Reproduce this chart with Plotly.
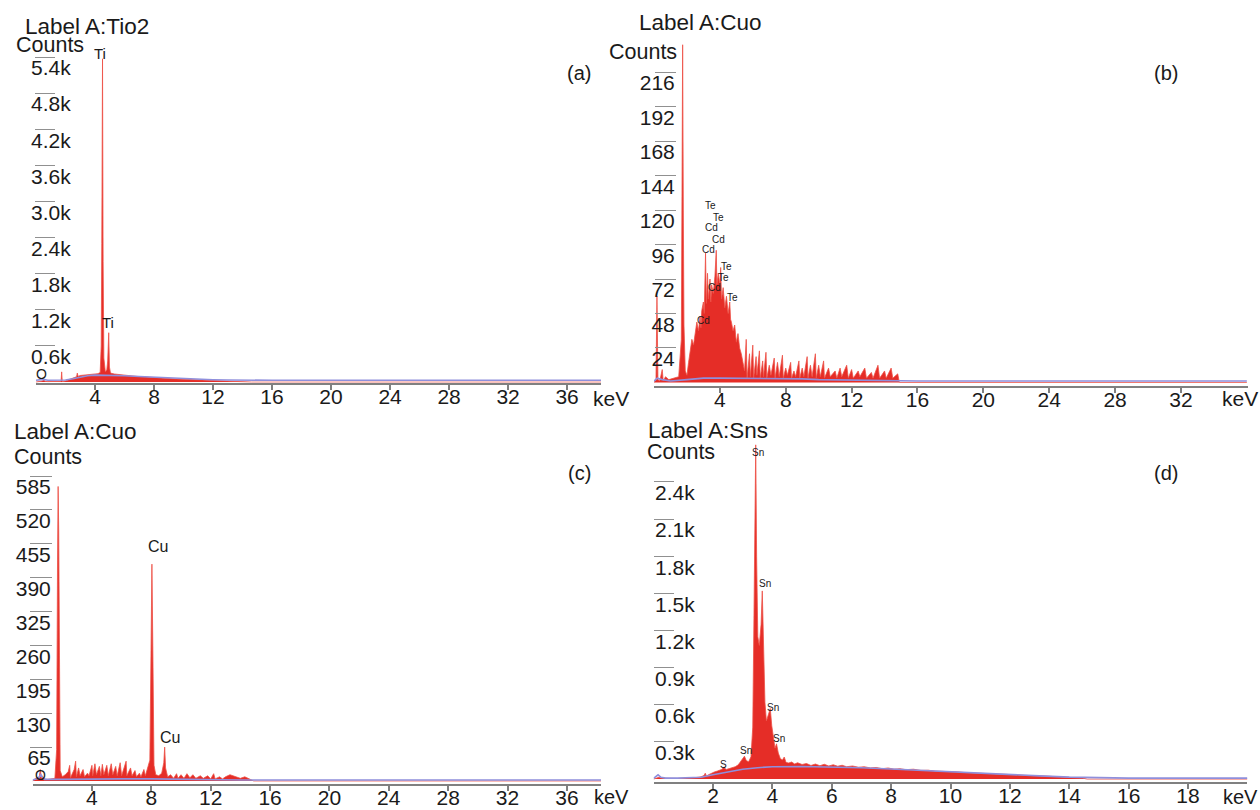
import plotly.graph_objects as go

# ---------------- data (keV, counts) ----------------
# (a) TiO2
A_KEV = [0.0, 0.3, 0.45, 0.52, 0.6, 0.8, 1.2, 1.6, 1.70, 1.74,
         1.78, 2.0, 2.2, 2.4, 2.6, 2.75, 2.8, 2.85, 3.0, 3.2,
         3.4, 3.6, 3.8, 4.0, 4.2, 4.35, 4.42, 4.46, 4.51, 4.55,
         4.60, 4.70, 4.80, 4.86, 4.93, 4.98, 5.05, 5.3, 5.6, 6.0,
         6.4, 6.8, 7.2, 7.6, 8.0, 8.5, 9.0, 9.5, 10.0, 10.5,
         11.0, 11.5, 12.0, 12.5, 13.0, 13.5, 14.0, 14.4, 14.6, 38.3]
A_CNT = [0, 10, 20, 45, 15, 8, 8, 12, 15, 170,
         12, 20, 35, 55, 75, 90, 150, 95, 110, 115,
         120, 125, 130, 135, 140, 160, 600, 2300, 5370, 2000,
         400, 170, 200, 350, 820, 250, 150, 135, 125, 115,
         105, 95, 88, 80, 72, 65, 58, 52, 47, 42,
         38, 34, 30, 26, 22, 18, 14, 8, 0, 0]
A_BG_KEV = [0, 0.3, 0.5, 0.8, 1.5, 2.0, 2.5, 3.0, 3.5, 4.0, 5.0, 6.0, 7.0, 8.0,
            9.0, 10.0, 11.0, 12.0, 13.0, 14.0, 15.0, 16.0, 38.3]
A_BG = [30, 40, 45, 30, 30, 35, 55, 85, 105, 115, 115, 105, 92, 80,
        68, 57, 48, 40, 35, 32, 30, 30, 30]

# (b) CuO (Cd / Te)
B_KEV = [0.00, 0.12, 0.18, 0.24, 0.35, 0.50, 0.56, 0.70, 0.90, 1.20,
         1.50, 1.66, 1.70, 1.74, 1.78, 1.82, 1.90, 2.00, 2.10, 2.20,
         2.30, 2.40, 2.50, 2.60, 2.70, 2.80, 2.85, 2.90, 3.00, 3.05,
         3.13, 3.18, 3.25, 3.30, 3.40, 3.45, 3.50, 3.60, 3.70, 3.78,
         3.82, 3.90, 4.00, 4.05, 4.10, 4.20, 4.30, 4.40, 4.50, 4.60,
         4.65, 4.70, 4.80, 4.90, 5.00, 5.10, 5.20, 5.30, 5.40, 5.50,
         5.60, 5.65, 5.80, 5.85, 6.00, 6.05, 6.20, 6.25, 6.40, 6.45,
         6.60, 6.65, 6.80, 6.85, 7.00, 7.10, 7.30, 7.35, 7.50, 7.60,
         7.80, 7.85, 8.00, 8.10, 8.30, 8.35, 8.50, 8.60, 8.80, 8.85,
         9.00, 9.10, 9.30, 9.35, 9.50, 9.60, 9.80, 9.85, 10.0, 10.1,
         10.3, 10.35, 10.6, 10.7, 11.0, 11.1, 11.3, 11.4, 11.7, 11.8,
         12.0, 12.1, 12.4, 12.5, 12.8, 12.9, 13.2, 13.3, 13.6, 13.7,
         14.0, 14.1, 14.4, 14.5, 14.8, 14.9, 36.0]
B_CNT = [0, 2, 60, 2, 1, 9, 1, 4, 2, 3,
         4, 30, 235, 235, 120, 40, 8, 5, 14, 24,
         30, 26, 36, 42, 36, 46, 38, 50, 56, 48,
         90, 55, 76, 58, 72, 56, 68, 62, 74, 92,
         68, 76, 68, 80, 58, 66, 52, 60, 48, 56,
         44, 42, 36, 40, 28, 34, 24, 20, 14, 8,
         30, 3, 20, 4, 26, 3, 18, 5, 22, 3,
         15, 4, 21, 3, 12, 5, 17, 3, 14, 4,
         19, 3, 10, 5, 14, 3, 8, 4, 15, 3,
         10, 4, 18, 3, 12, 4, 20, 3, 12, 4,
         15, 3, 10, 4, 8, 3, 10, 4, 12, 3,
         9, 3, 8, 4, 10, 3, 7, 3, 12, 3,
         8, 3, 10, 3, 6, 0, 0]
B_BG_KEV = [0, 0.2, 0.5, 1, 2, 3, 4, 5, 6, 7, 8, 9, 10, 12, 14, 16, 36]
B_BG = [1, 3, 2, 1, 2, 3, 3, 3, 3, 3, 3, 2.5, 2, 1.5, 1, 1, 1]

# (c) CuO (Cu)
C_KEV = [0.00, 0.20, 0.45, 0.52, 0.60, 1.00, 1.50, 1.62, 1.68, 1.72,
         1.76, 1.80, 1.86, 2.00, 2.20, 2.40, 2.50, 2.55, 2.70, 2.80,
         2.90, 2.95, 3.10, 3.20, 3.40, 3.50, 3.70, 3.80, 4.00, 4.05,
         4.20, 4.30, 4.50, 4.60, 4.70, 4.80, 5.00, 5.10, 5.30, 5.40,
         5.60, 5.70, 5.90, 6.00, 6.30, 6.35, 6.60, 6.70, 6.90, 7.00,
         7.20, 7.30, 7.50, 7.60, 7.80, 7.90, 7.98, 8.04, 8.10, 8.18,
         8.30, 8.50, 8.70, 8.84, 8.90, 8.96, 9.10, 9.30, 9.50, 9.70,
         9.80, 10.0, 10.2, 10.4, 10.6, 10.8, 11.0, 11.3, 11.5, 11.8,
         12.0, 12.2, 12.3, 12.6, 12.8, 13.0, 13.3, 13.5, 13.8, 14.0,
         14.3, 14.6, 14.9, 38.3]
C_CNT = [0, 5, 8, 22, 5, 3, 5, 60, 420, 565,
         480, 200, 20, 8, 12, 18, 30, 6, 15, 22,
         38, 8, 25, 10, 22, 8, 15, 10, 30, 10,
         33, 12, 28, 10, 32, 12, 30, 10, 33, 12,
         28, 10, 35, 10, 38, 10, 25, 10, 20, 8,
         15, 8, 22, 10, 30, 40, 250, 416, 260, 30,
         12, 10, 15, 35, 65, 25, 8, 12, 5, 14,
         5, 12, 5, 14, 6, 12, 5, 10, 5, 10,
         4, 14, 4, 8, 4, 8, 12, 10, 8, 5,
         8, 4, 0, 0]
C_BG_KEV = [0, 0.4, 0.55, 0.8, 2, 4, 6, 8, 10, 12, 14, 16, 38.3]
C_BG = [2, 5, 12, 3, 3, 4, 4, 4, 3, 3, 2, 2, 2]

# (d) SnS
D_KEV = [0.00, 0.10, 0.18, 0.26, 0.40, 0.60, 0.80, 1.00, 1.20, 1.40,
         1.60, 1.70, 1.74, 1.78, 1.85, 1.95, 2.05, 2.15, 2.25, 2.31,
         2.35, 2.45, 2.55, 2.65, 2.75, 2.85, 2.95, 3.02, 3.06, 3.12,
         3.20, 3.28, 3.34, 3.38, 3.41, 3.44, 3.47, 3.51, 3.56, 3.62,
         3.66, 3.70, 3.75, 3.80, 3.86, 3.93, 3.98, 4.04, 4.09, 4.14,
         4.20, 4.27, 4.34, 4.40, 4.46, 4.55, 4.65, 4.75, 4.85, 5.00,
         5.15, 5.30, 5.45, 5.60, 5.75, 5.90, 6.05, 6.20, 6.35, 6.50,
         6.70, 6.90, 7.10, 7.30, 7.50, 7.70, 7.90, 8.10, 8.30, 8.50,
         8.75, 9.00, 9.25, 9.50, 9.75, 10.0, 10.25, 10.5, 10.75, 11.0,
         11.25, 11.5, 11.75, 12.0, 12.25, 12.5, 12.75, 13.0, 13.25, 13.5,
         13.75, 14.0, 14.25, 14.45, 14.6, 20.0]
D_CNT = [0, 8, 15, 8, 5, 6, 5, 6, 8, 12,
         18, 30, 48, 25, 35, 48, 58, 65, 72, 80,
         95, 78, 85, 92, 100, 115, 150, 170, 185, 150,
         140, 180, 420, 1300, 2100, 2700, 1800, 1150, 1080, 1250,
         1520, 1050, 620, 470, 520, 570, 430, 320, 250, 285,
         210, 165, 155, 178, 135, 130, 138, 122, 132, 118,
         126, 110, 122, 108, 120, 106, 116, 104, 112, 100,
         106, 96, 100, 90, 94, 84, 90, 80, 84, 76,
         80, 70, 72, 64, 64, 58, 58, 52, 50, 46,
         46, 40, 40, 35, 34, 30, 30, 25, 24, 20,
         18, 15, 12, 8, 0, 0]
D_BG_KEV = [0.0, 0.08, 0.15, 0.25, 0.4, 0.8, 1.2, 1.6, 2.0, 2.5, 3.0, 3.5, 4.0,
            5.0, 6.0, 7.0, 8.0, 9.0, 10.0, 11.0, 12.0, 13.0, 14.0, 15.0, 16.0, 20.0]
D_BG = [5, 20, 35, 15, 8, 8, 10, 15, 35, 60, 80, 92, 100,
        102, 98, 92, 82, 70, 58, 47, 36, 26, 16, 10, 8, 8]

# tick values / labels
A_YTICKS = [600, 1200, 1800, 2400, 3000, 3600, 4200, 4800, 5400]
A_YTEXT = ["0.6k", "1.2k", "1.8k", "2.4k", "3.0k", "3.6k", "4.2k", "4.8k", "5.4k"]
B_YTICKS = [24, 48, 72, 96, 120, 144, 168, 192, 216]
C_YTICKS = [65, 130, 195, 260, 325, 390, 455, 520, 585]
D_YTICKS = [300, 600, 900, 1200, 1500, 1800, 2100, 2400]
D_YTEXT = ["0.3k", "0.6k", "0.9k", "1.2k", "1.5k", "1.8k", "2.1k", "2.4k"]
AC_XTICKS = [4, 8, 12, 16, 20, 24, 28, 32, 36]
B_XTICKS = [4, 8, 12, 16, 20, 24, 28, 32]
D_XTICKS = [2, 4, 6, 8, 10, 12, 14, 16, 18]

# peak labels (text, keV, counts, font size)
A_PEAKS = [("Ti", 4.34, 5466, 15), ("Ti", 4.88, 982, 15), ("O", 0.4, 130, 14)]
B_PEAKS = [("Te", 3.46, 123.5, 10), ("Te", 3.89, 115.1, 10), ("Cd", 3.52, 107.5, 10),
           ("Cd", 3.89, 99.8, 10), ("Cd", 3.28, 92.2, 10), ("Te", 4.43, 81.0, 10),
           ("Te", 4.19, 73.4, 10), ("Cd", 3.70, 66.4, 10), ("Te", 4.74, 58.8, 10),
           ("Cd", 2.98, 42.8, 10)]
C_PEAKS = [("Cu", 8.48, 449, 16), ("Cu", 9.23, 83.5, 16), ("O", 0.5, 12, 14)]
D_PEAKS = [("Sn", 3.52, 2641, 10), ("Sn", 3.75, 1577, 10), ("Sn", 4.02, 582, 10),
           ("Sn", 4.22, 324, 10), ("Sn", 3.11, 234, 10), ("S", 2.34, 122, 10)]

# ---------------- styling ----------------
W, H = 1260, 810
FONT = "Liberation Sans, Arial, sans-serif"
TXT = "#1a1a1a"
RED_FILL = "rgba(228,38,32,0.97)"
RED_LINE = "rgba(238,80,70,1)"
BLUE = "#8f8fdc"
AXIS = "#808080"


def fx(p):
    return p / W


def fy(p):
    return 1 - p / H


panels = [
    dict(sfx="", xd=(36, 601), xr=(0, 38.3), yd=(382.7, 34), yr=(-10, 5782), ypos=55, tl=20,
         so=-40, kev=A_KEV, cnt=A_CNT, bk=A_BG_KEV, bg=A_BG, yt=A_YTICKS, ytt=A_YTEXT,
         xt=AC_XTICKS, peaks=A_PEAKS),
    dict(sfx="2", xd=(654, 1248), xr=(0, 36.07), yd=(385.5, 38), yr=(-2.1, 239.7), ypos=676, tl=21,
         so=-24, kev=B_KEV, cnt=B_CNT, bk=B_BG_KEV, bg=B_BG, yt=B_YTICKS, ytt=[str(v) for v in B_YTICKS],
         xt=B_XTICKS, peaks=B_PEAKS),
    dict(sfx="3", xd=(32.6, 601), xr=(0, 38.3), yd=(784, 466), yr=(-5.8, 604.3), ypos=52, tl=22,
         so=-25, kev=C_KEV, cnt=C_CNT, bk=C_BG_KEV, bg=C_BG, yt=C_YTICKS, ytt=[str(v) for v in C_YTICKS],
         xt=AC_XTICKS, peaks=C_PEAKS),
    dict(sfx="4", xd=(653.6, 1247.4), xr=(0, 20), yd=(782, 440), yr=(-23.4, 2739), ypos=674, tl=20,
         so=-45, kev=D_KEV, cnt=D_CNT, bk=D_BG_KEV, bg=D_BG, yt=D_YTICKS, ytt=D_YTEXT,
         xt=D_XTICKS, peaks=D_PEAKS),
]

fig = go.Figure()
layout = dict(
    width=W, height=H, margin=dict(l=0, r=0, t=0, b=0, autoexpand=False),
    paper_bgcolor="white", plot_bgcolor="white", showlegend=False,
    font=dict(family=FONT, color=TXT, size=21),
)
annotations = []

for p in panels:
    s = p["sfx"]
    xa, ya = "x" + s, "y" + s
    fig.add_trace(go.Scatter(x=p["kev"], y=p["cnt"], xaxis=xa, yaxis=ya, mode="lines",
                             line=dict(color=RED_LINE, width=0.8), fill="tozeroy",
                             fillcolor=RED_FILL, hoverinfo="skip"))
    fig.add_trace(go.Scatter(x=p["bk"], y=p["bg"], xaxis=xa, yaxis=ya, mode="lines",
                             line=dict(color=BLUE, width=1.6), hoverinfo="skip"))
    layout["xaxis" + s] = dict(
        domain=[fx(p["xd"][0]), fx(p["xd"][1])], range=list(p["xr"]), anchor=ya,
        automargin=False, showgrid=False, zeroline=False, showline=True, linecolor=AXIS,
        linewidth=2, ticks="outside", ticklen=5, tickwidth=1.5, tickcolor=AXIS,
        tickvals=p["xt"], ticklabelstandoff=-11,
        tickfont=dict(family=FONT, size=21, color=TXT),
    )
    layout["yaxis" + s] = dict(
        domain=[fy(p["yd"][0]), fy(p["yd"][1])], range=list(p["yr"]), anchor="free",
        position=fx(p["ypos"]), automargin=False, showgrid=False, zeroline=False, showline=False,
        ticks="outside", ticklen=p["tl"], tickwidth=1.2, tickcolor="#909090",
        tickvals=p["yt"], ticktext=p["ytt"], ticklabelshift=11, ticklabelstandoff=p["so"],
        tickfont=dict(family=FONT, size=21, color=TXT),
    )
    for (t, kx, ky, fs) in p["peaks"]:
        annotations.append(dict(text=t, x=kx, y=ky, xref=xa, yref=ya, showarrow=False,
                                font=dict(family=FONT, size=fs, color=TXT)))

texts = [
    ("Label A:Tio2", 23, 27, "left", 22.5), ("Counts", 14, 45, "left", 21.5),
    ("Label A:Cuo", 637, 23, "left", 22.5), ("Counts", 607, 52, "left", 21.5),
    ("Label A:Cuo", 12, 431, "left", 22.5), ("Counts", 12, 457, "left", 21.5),
    ("Label A:Sns", 646, 430, "left", 22.5), ("Counts", 645, 452, "left", 21.5),
    ("(a)", 579, 73, "center", 20), ("(b)", 1166, 73, "center", 20),
    ("(c)", 579, 473, "center", 20), ("(d)", 1166, 473, "center", 20),
    ("keV", 611, 398, "center", 21), ("keV", 1240, 398, "center", 21),
    ("keV", 611, 797, "center", 20), ("keV", 1240, 797, "center", 20),
]
for (t, px, py, anc, sz) in texts:
    annotations.append(dict(text=t, x=fx(px), y=fy(py), xref="paper", yref="paper",
                            xanchor=anc, yanchor="middle", showarrow=False,
                            font=dict(family=FONT, size=sz, color=TXT)))

layout["annotations"] = annotations
fig.update_layout(**layout)
fig.write_html("out.html")
